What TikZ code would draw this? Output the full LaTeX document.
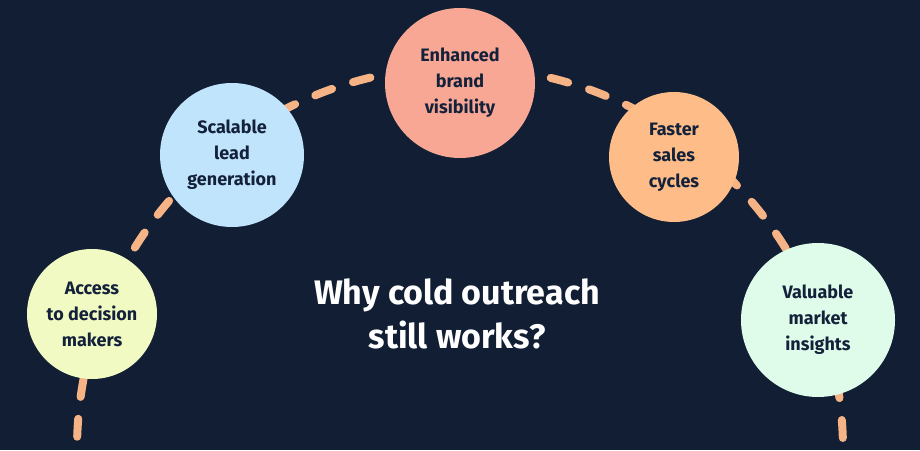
\documentclass[tikz,border=0pt]{standalone}
\usepackage{fontspec}
\setmainfont{Fira Sans}
\definecolor{bg}{HTML}{111E33}
\definecolor{dashc}{HTML}{F6B386}
\definecolor{cyel}{HTML}{F2FAC3}
\definecolor{cblue}{HTML}{BFE4FC}
\definecolor{csal}{HTML}{F8A795}
\definecolor{corg}{HTML}{FDBC88}
\definecolor{cmint}{HTML}{DFFBEA}
\definecolor{txt}{HTML}{14213A}
\begin{document}
\begin{tikzpicture}[x=1pt,y=1pt,
  bub/.style={circle,fill=#1,inner sep=0pt,align=center,font=\bfseries\fontsize{18}{26}\selectfont,text=txt}]
\fill[bg] (0,0) rectangle (920,450);
\useasboundingbox (0,0) rectangle (920,450);
\begin{scope}
\clip (0,0) rectangle (920,450);
\draw[dashc,line width=8,line cap=round,dash pattern=on 18 off 22] (460,0)++(184:383) arc (184:-4:383);
\end{scope}
\node[bub=cyel,minimum size=130] (a) at (92,136) {Access\\to decision\\makers};
\node[bub=cblue,minimum size=144] (b) at (232,295) {Scalable\\lead\\generation};
\node[bub=csal,minimum size=150] (c) at (460,367) {Enhanced\\brand\\visibility};
\node[bub=corg,minimum size=130] (d) at (674,293) {Faster\\sales\\cycles};
\node[bub=cmint,minimum size=154] (e) at (818,130) {Valuable\\market\\insights};
\node[text=white,font=\bfseries\fontsize{34}{44}\selectfont,align=center] (t) at (457,136) {Why cold outreach\\still works?};
\end{tikzpicture}
\end{document}
